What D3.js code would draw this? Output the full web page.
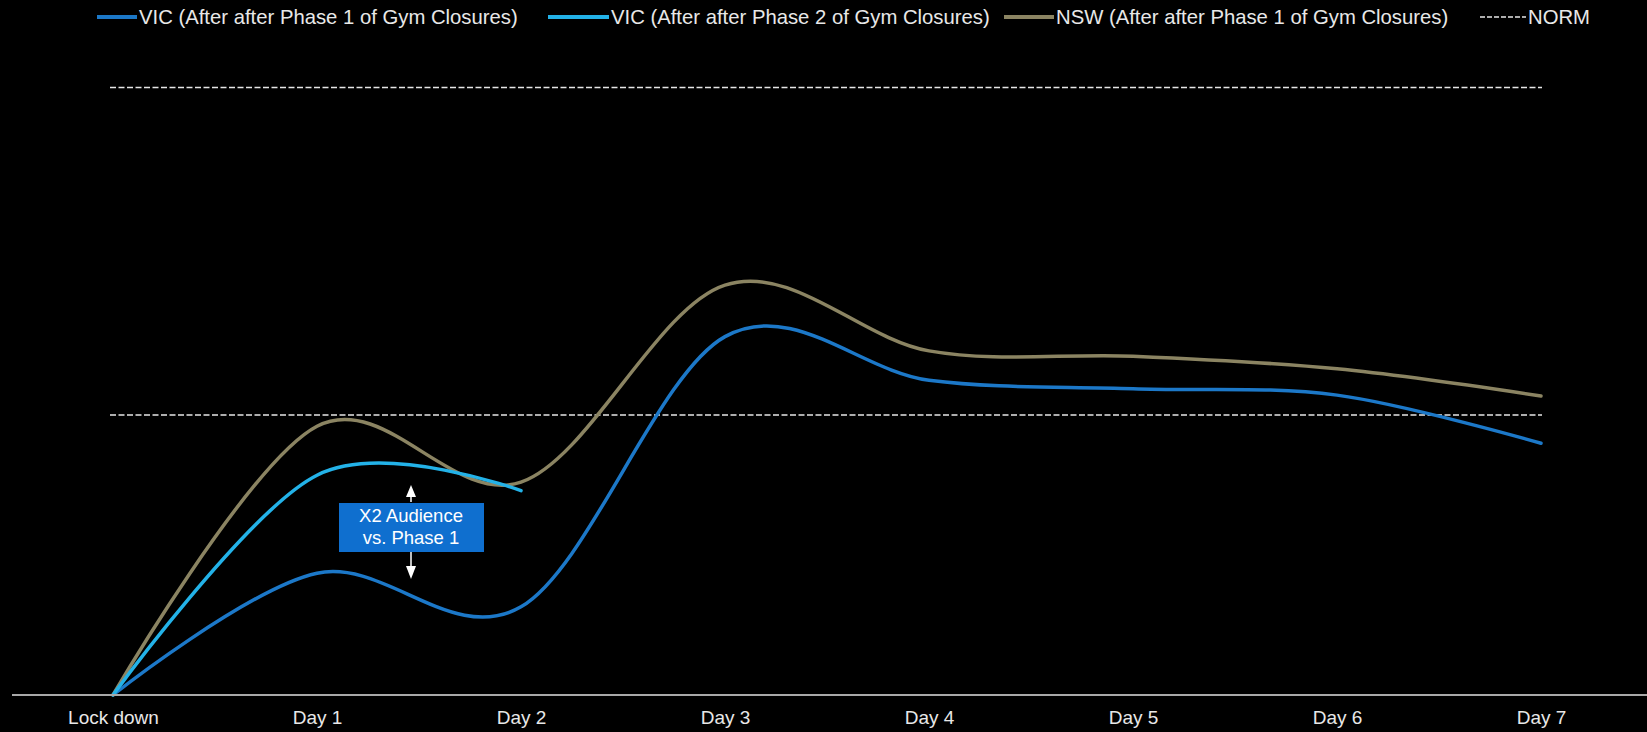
<!DOCTYPE html>
<html>
<head>
<meta charset="utf-8">
<script src="https://cdn.jsdelivr.net/npm/d3@7"></script>
<style>
  html, body { margin: 0; padding: 0; background: #000; }
  svg { display: block; }
  text { font-family: "Liberation Sans", Arial, sans-serif; }
</style>
</head>
<body>
<svg id="chart" width="1647" height="732"></svg>
<script>
// Audience index by day after lockdown (NORM = 100)
const categories = ["Lock down", "Day 1", "Day 2", "Day 3", "Day 4", "Day 5", "Day 6", "Day 7"];
const vicPhase1 = [0, 43.5, 31.5, 128, 112.4, 109.4, 107.1, 89.9];
const vicPhase2 = [0, 78.5, 73];
const nswPhase1 = [0, 96, 76, 146.4, 122.9, 121, 116.5, 106.8];
const normLevels = [100, 217];

const seriesNames = [
  "VIC (After after Phase 1 of Gym Closures)",
  "VIC (After after Phase 2 of Gym Closures)",
  "NSW (After after Phase 1 of Gym Closures)"
];
const seriesColors = ["#1c78c8", "#23b2e8", "#8b8462"];
const seriesData = [vicPhase1, vicPhase2, nswPhase1];

const annotationLines = ["X2 Audience", "vs. Phase 1"];

const svg = d3.select("#chart");

const x = d3.scalePoint().domain(categories).range([113, 1541]);
const y = d3.scaleLinear().domain([0, 220]).range([695, 79]);

// Reference (NORM) lines
svg.append("g").selectAll("line")
  .data(normLevels)
  .join("line")
  .attr("x1", 110).attr("x2", 1542)
  .attr("y1", d => y(d)).attr("y2", d => y(d))
  .attr("stroke", "#e6e6e6")
  .attr("stroke-width", 1.5)
  .attr("stroke-dasharray", "6,2.5");

// Series curves
const line = d3.line()
  .x((d, i) => x(categories[i]))
  .y(d => y(d))
  .curve(d3.curveCardinal.tension(0));

// draw order: dark blue, tan, light blue on top
[0, 2, 1].forEach(k => {
  svg.append("path")
    .datum(seriesData[k])
    .attr("d", line)
    .attr("fill", "none")
    .attr("stroke", seriesColors[k])
    .attr("stroke-width", 3.5)
    .attr("stroke-linecap", "round");
});

// X axis
const xAxis = svg.append("g")
  .attr("transform", `translate(0,${y(0)})`)
  .call(d3.axisBottom(x).tickSize(0).tickPadding(16));
xAxis.select(".domain").remove();
xAxis.append("line")
  .attr("x1", 12).attr("x2", 1647)
  .attr("stroke", "#a8a8a8").attr("stroke-width", 2);
xAxis.selectAll(".tick text")
  .attr("fill", "#e8e8e8")
  .attr("font-size", 19)
  .attr("font-family", "Liberation Sans, Arial, sans-serif");

// Annotation box with arrows
const ann = svg.append("g");
const boxCx = 411;
ann.append("rect")
  .attr("x", 339).attr("y", 503).attr("width", 145).attr("height", 49)
  .attr("fill", "#0f6fcf");
ann.selectAll("text")
  .data(annotationLines)
  .join("text")
  .attr("x", boxCx).attr("y", (d, i) => 522 + i * 22)
  .attr("text-anchor", "middle")
  .attr("fill", "#ffffff")
  .attr("font-size", 18.5)
  .text(d => d);
// up arrow
ann.append("line").attr("x1", boxCx).attr("x2", boxCx).attr("y1", 502).attr("y2", 495)
  .attr("stroke", "#fff").attr("stroke-width", 1.5);
ann.append("path").attr("d", `M${boxCx},485 L${boxCx - 5},497 L${boxCx + 5},497 Z`).attr("fill", "#fff");
// down arrow
ann.append("line").attr("x1", boxCx).attr("x2", boxCx).attr("y1", 552).attr("y2", 568)
  .attr("stroke", "#fff").attr("stroke-width", 1.5);
ann.append("path").attr("d", `M${boxCx},579 L${boxCx - 5},566 L${boxCx + 5},566 Z`).attr("fill", "#fff");

// Legend
const legendItems = [
  { name: seriesNames[0], color: seriesColors[0], x1: 97, x2: 137, dashed: false },
  { name: seriesNames[1], color: seriesColors[1], x1: 548, x2: 609, dashed: false },
  { name: seriesNames[2], color: seriesColors[2], x1: 1004, x2: 1054, dashed: false },
  { name: "NORM", color: "#e6e6e6", x1: 1480, x2: 1526, dashed: true }
];
const legend = svg.append("g");
legendItems.forEach(it => {
  legend.append("line")
    .attr("x1", it.x1).attr("x2", it.x2).attr("y1", 17).attr("y2", 17)
    .attr("stroke", it.color)
    .attr("stroke-width", it.dashed ? 1.5 : 4)
    .attr("stroke-dasharray", it.dashed ? "5,2" : null);
  legend.append("text")
    .attr("x", it.x2 + 2).attr("y", 24)
    .attr("fill", "#e8e8e8")
    .attr("font-size", 20.3)
    .text(it.name);
});
</script>
</body>
</html>
